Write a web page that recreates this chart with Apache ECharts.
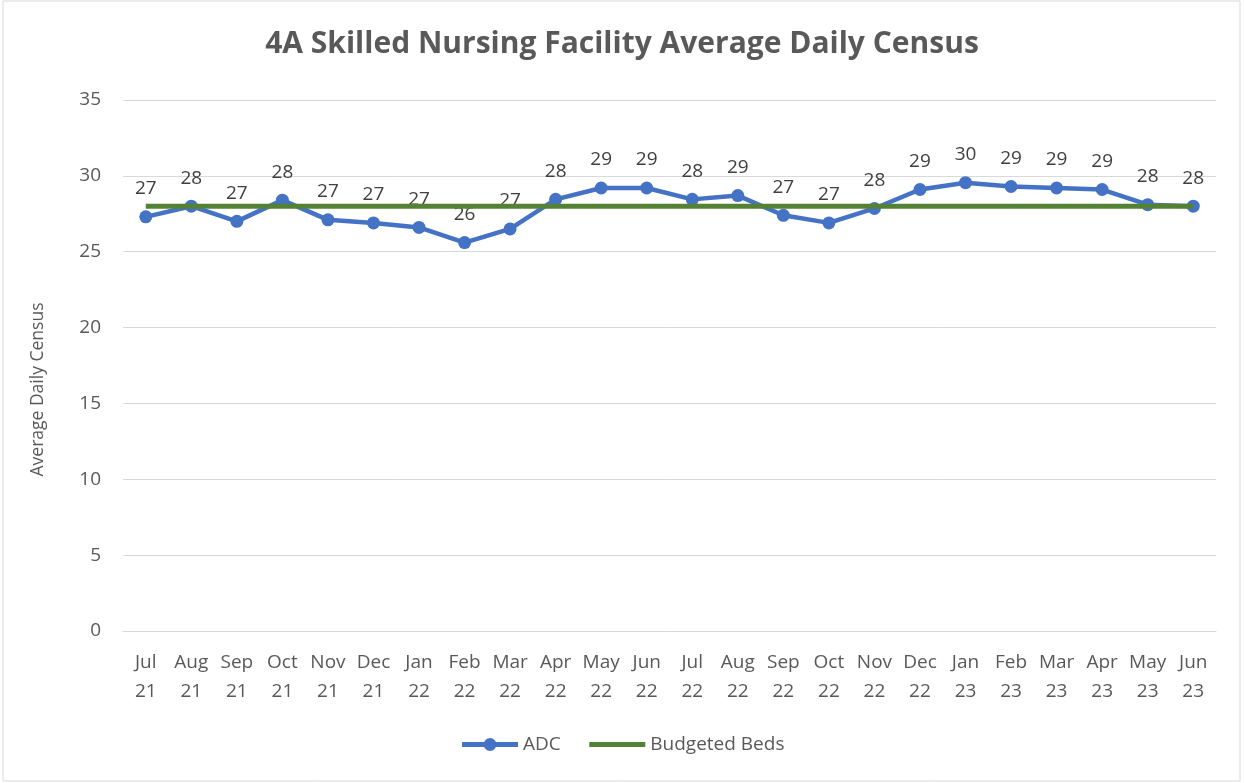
<!DOCTYPE html>
<html>
<head>
<meta charset="utf-8">
<script src="https://cdn.jsdelivr.net/npm/echarts@6/dist/echarts.min.js"></script>
<style>
  html, body { margin: 0; padding: 0; background: #fff; }
  #chart { width: 1244px; height: 783px; }
</style>
</head>
<body>
<div id="chart"></div>
<script>
// months, Jul 2021 - Jun 2023
const months = ['Jul\n21', 'Aug\n21', 'Sep\n21', 'Oct\n21', 'Nov\n21', 'Dec\n21',
    'Jan\n22', 'Feb\n22', 'Mar\n22', 'Apr\n22', 'May\n22', 'Jun\n22',
    'Jul\n22', 'Aug\n22', 'Sep\n22', 'Oct\n22', 'Nov\n22', 'Dec\n22',
    'Jan\n23', 'Feb\n23', 'Mar\n23', 'Apr\n23', 'May\n23', 'Jun\n23']

const adc = [27.3, 28.0, 27.0, 28.4, 27.1, 26.9, 26.6, 25.6, 26.5, 28.45, 29.2, 29.2,
    28.45, 28.7, 27.4, 26.9, 27.85, 29.1, 29.55, 29.3, 29.2, 29.1, 28.1, 28.0]

const budgetedBeds = [28, 28, 28, 28, 28, 28, 28, 28, 28, 28, 28, 28,
    28, 28, 28, 28, 28, 28, 28, 28, 28, 28, 28, 28]

const yTicks = { min: 0, max: 35, interval: 5 }

const font = '"Open Sans", Lato, sans-serif'
const textColor = '#595959'

let chart = echarts.init(document.getElementById('chart'))
chart.setOption({
    animation: false,
    textStyle: { fontFamily: font },
    graphic: [{
        type: 'rect',
        shape: { x: 3, y: 1, width: 1237, height: 780 },
        style: { fill: 'none', stroke: '#d9d9d9', lineWidth: 1 },
        silent: true
    }],
    title: {
        text: '4A Skilled Nursing Facility Average Daily Census',
        left: 'center',
        top: 24,
        textStyle: {
            fontFamily: font,
            fontSize: 30,
            fontWeight: 'bold',
            color: textColor
        }
    },
    legend: {
        bottom: 24,
        left: 'center',
        itemWidth: 56,
        itemHeight: 16,
        itemGap: 26,
        lineStyle: { width: 5 },
        textStyle: { fontFamily: font, fontSize: 19, color: textColor },
        data: [
            { name: 'ADC' },
            { name: 'Budgeted Beds', itemStyle: { opacity: 0 } }
        ]
    },
    grid: {
        left: 123,
        right: 28,
        top: 100,
        bottom: 152
    },
    xAxis: {
        type: 'category',
        data: months,
        boundaryGap: true,
        axisLine: { show: true, lineStyle: { color: '#d9d9d9' } },
        axisTick: { show: false },
        axisLabel: {
            interval: 0,
            margin: 17,
            fontFamily: font,
            fontSize: 19,
            lineHeight: 29,
            color: textColor
        }
    },
    yAxis: {
        type: 'value',
        min: yTicks.min,
        max: yTicks.max,
        interval: yTicks.interval,
        name: 'Average Daily Census',
        nameLocation: 'middle',
        nameGap: 76,
        nameTextStyle: {
            fontFamily: font,
            fontSize: 17.5,
            color: textColor,
            padding: [0, 48, 0, 0]
        },
        axisLine: { show: false },
        axisTick: { show: false },
        axisLabel: { margin: 22, fontFamily: font, fontSize: 19, color: textColor },
        splitLine: { lineStyle: { color: '#d9d9d9', width: 1 } }
    },
    series: [{
        name: 'ADC',
        type: 'line',
        data: adc,
        symbol: 'circle',
        symbolSize: 13,
        z: 2,
        itemStyle: { color: '#4472c4' },
        lineStyle: { color: '#4472c4', width: 4.5 },
        label: {
            show: true,
            position: 'top',
            distance: 12,
            fontFamily: font,
            fontSize: 19,
            color: '#404040',
            formatter: p => Math.round(p.value)
        }
    }, {
        name: 'Budgeted Beds',
        type: 'line',
        data: budgetedBeds,
        symbol: 'none',
        z: 3,
        itemStyle: { color: '#548235' },
        lineStyle: { color: '#548235', width: 5 }
    }]
})
</script>
</body>
</html>
